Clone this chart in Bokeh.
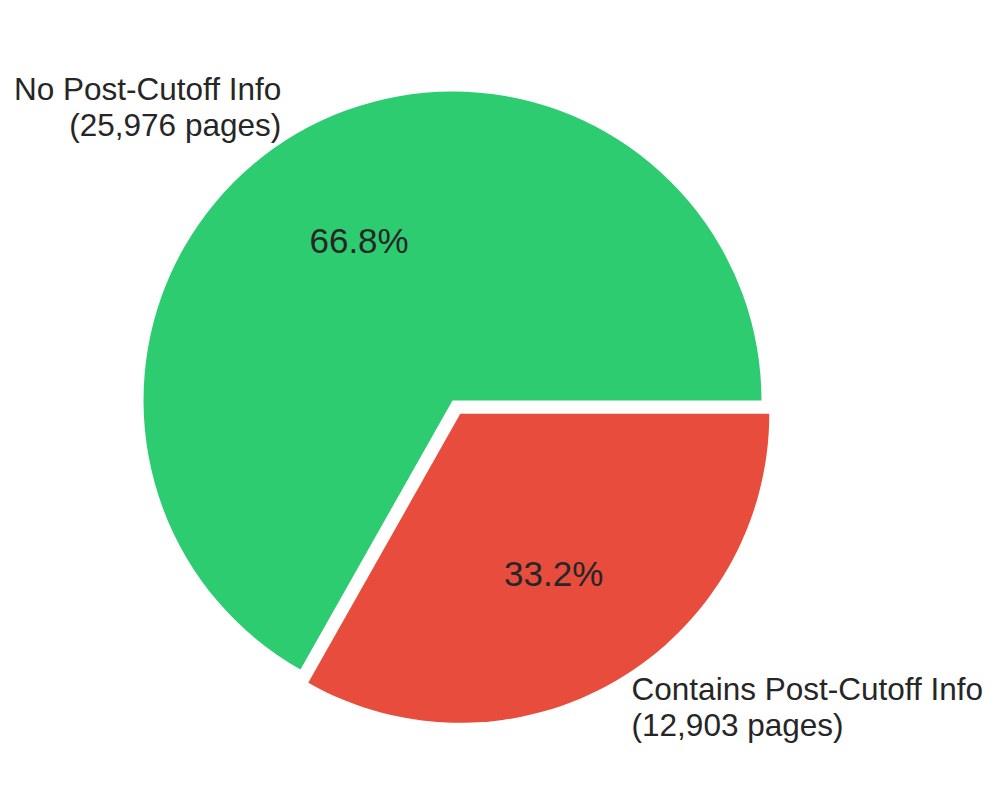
import math
from bokeh.plotting import figure
from bokeh.models import Range1d, ColumnDataSource
from bokeh.core.properties import value
from bokeh.embed import file_html
from bokeh.resources import INLINE

# ---- data ----
categories = ["No Post-Cutoff Info", "Contains Post-Cutoff Info"]
pages = [25976, 12903]
colors = ["#2ecc71", "#e74c3c"]
explode = [0.0, 0.05]

total = sum(pages)
starts, ends, cx, cy = [], [], [], []
pct_x, pct_y, pct_txt = [], [], []
lab_x, lab_y, lab_txt, lab_align = [], [], [], []
theta = 0.0
for cat, n, ex in zip(categories, pages, explode):
    frac = n / total
    a0, a1 = theta, theta + 2 * math.pi * frac
    mid = (a0 + a1) / 2
    ox, oy = ex * math.cos(mid), ex * math.sin(mid)
    starts.append(a0); ends.append(a1); cx.append(ox); cy.append(oy)
    pct_x.append(ox + 0.6 * math.cos(mid)); pct_y.append(oy + 0.6 * math.sin(mid))
    pct_txt.append(f"{100 * frac:.1f}%")
    lab_x.append(ox + 1.1 * math.cos(mid)); lab_y.append(oy + 1.1 * math.sin(mid))
    lab_txt.append(f"{cat}\n({n:,} pages)")
    lab_align.append("left" if math.cos(mid) >= 0 else "right")
    theta = a1

W, H = 995, 790
CX, CY, R = 452.0, 400.0, 309.0  # canvas pixel position of the pie centre and radius

p = figure(width=W, height=H, output_backend="svg", toolbar_location=None,
           x_axis_type=None, y_axis_type=None, min_border=0,
           x_range=Range1d(-CX / R, (W - CX) / R), y_range=Range1d(-(H - CY) / R, CY / R))
p.outline_line_color = None
p.grid.visible = False
p.background_fill_color = "white"
p.border_fill_color = "white"

src = ColumnDataSource(dict(x=cx, y=cy, start=starts, end=ends, color=colors))
p.wedge(x="x", y="y", radius=1.0, start_angle="start", end_angle="end",
        fill_color="color", line_color=None, source=src)

p.text(x=pct_x, y=pct_y, text=pct_txt, text_align="center", text_baseline="middle",
       text_font=value("Liberation Sans"), text_font_size="35px", text_color="#262626")

lsrc = ColumnDataSource(dict(x=lab_x, y=lab_y, text=lab_txt, align=lab_align))
p.text(x="x", y="y", text="text", text_align="align", text_baseline="middle",
       text_font=value("Liberation Sans"), text_font_size="31.5px", text_color="#262626",
       text_line_height=1.0, source=lsrc)

open("out.html", "w").write(file_html(p, INLINE))
